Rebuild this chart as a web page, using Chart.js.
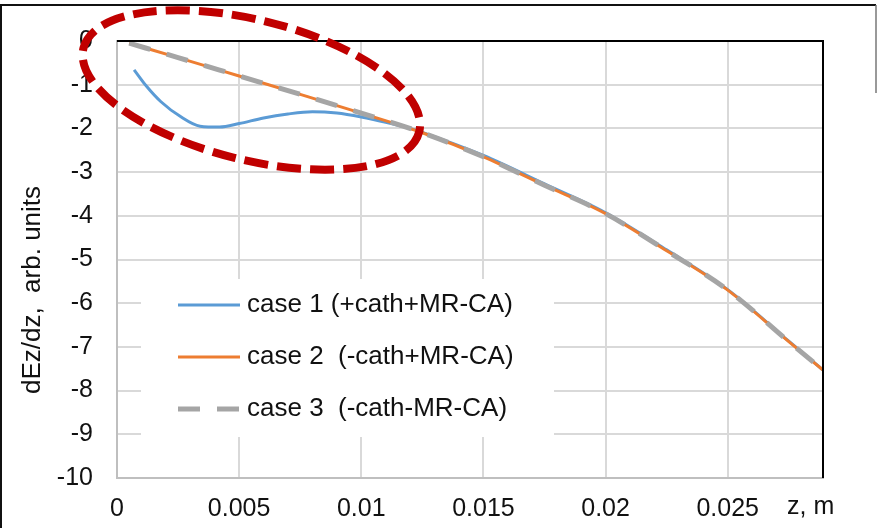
<!DOCTYPE html>
<html>
<head>
<meta charset="utf-8">
<script src="https://cdn.jsdelivr.net/npm/chart.js@4"></script>
<style>
  html, body { margin: 0; padding: 0; background: #fff; }
  canvas { display: block; }
</style>
</head>
<body>
<canvas id="chart" width="877" height="528"></canvas>
<script>
// Dados
const zCase1 = [0.0007, 0.0012, 0.0018, 0.0026, 0.0034, 0.0042, 0.005, 0.006, 0.007, 0.008, 0.009, 0.01, 0.011, 0.012, 0.0125, 0.015, 0.0175, 0.02, 0.0225, 0.025, 0.0275, 0.0289];
const case1 = [-0.66, -1.03, -1.39, -1.73, -1.95, -1.97, -1.89, -1.76, -1.67, -1.62, -1.65, -1.74, -1.86, -2.0, -2.09, -2.62, -3.27, -3.93, -4.78, -5.69, -6.87, -7.53];

const zCase23 = [0.0005, 0.0025, 0.005, 0.0075, 0.01, 0.0125, 0.015, 0.0175, 0.02, 0.0225, 0.025, 0.0275, 0.0289];
const case2 = [-0.05, -0.38, -0.8, -1.22, -1.65, -2.1, -2.65, -3.3, -3.95, -4.8, -5.7, -6.88, -7.53];
const case3 = [-0.05, -0.38, -0.8, -1.22, -1.65, -2.1, -2.65, -3.3, -3.95, -4.8, -5.7, -6.88, -7.53];

const labels = ['case 1 (+cath+MR-CA)', 'case 2  (-cath+MR-CA)', 'case 3  (-cath-MR-CA)'];
const yTitle = 'dEz/dz,  arb. units';
const xTitle = 'z, m';

const xMin = 0, xMax = 0.0289, xStep = 0.005;
const yMin = -10, yMax = 0, yStep = 1;

// elipse vermelha (anotação) – centro em unidades dos dados
const ellipseZ = 0.0055;
const ellipseV = -1.12;

const FONT = "'Liberation Sans', Arial, sans-serif";
Chart.defaults.font.family = FONT;
Chart.defaults.color = '#111';

function pontos(xs, ys) {
    return xs.map((x, i) => ({ x: x, y: ys[i] }));
}

const decor = {
    id: 'decor',
    beforeDraw(chart) {
        const ctx = chart.ctx;
        ctx.save();
        ctx.fillStyle = '#fff';
        ctx.fillRect(0, 0, chart.width, chart.height);
        // moldura exterior
        ctx.strokeStyle = '#111';
        ctx.lineWidth = 2;
        ctx.beginPath();
        ctx.moveTo(0, 5); ctx.lineTo(876, 5);
        ctx.moveTo(1, 5); ctx.lineTo(1, chart.height);
        ctx.stroke();
        ctx.strokeStyle = '#777';
        ctx.lineWidth = 1.5;
        ctx.beginPath();
        ctx.moveTo(876, 5); ctx.lineTo(876, 93);
        ctx.stroke();
        ctx.restore();
    },
    beforeDatasetsDraw(chart) {
        const ctx = chart.ctx;
        ctx.save();
        ctx.fillStyle = '#fff';
        ctx.fillRect(141, 279, 413, 158);
        ctx.restore();
    },
    afterDatasetsDraw(chart) {
        const ctx = chart.ctx;
        const a = chart.chartArea;
        ctx.save();
        ctx.strokeStyle = '#000';
        ctx.lineWidth = 2;
        ctx.beginPath();
        ctx.moveTo(a.left, a.top);
        ctx.lineTo(a.right, a.top);
        ctx.lineTo(a.right, a.bottom);
        ctx.stroke();
        ctx.restore();
    },
    afterDraw(chart) {
        const ctx = chart.ctx;
        const xs = chart.scales.x, ys = chart.scales.y;
        ctx.save();

        // legenda
        const rows = [305, 357, 409];
        chart.data.datasets.forEach((ds, i) => {
            ctx.strokeStyle = ds.borderColor;
            ctx.lineWidth = ds.borderWidth;
            ctx.setLineDash(ds.borderDash || []);
            ctx.beginPath();
            ctx.moveTo(178, rows[i]);
            ctx.lineTo(240, rows[i]);
            ctx.stroke();
            ctx.setLineDash([]);
            ctx.fillStyle = '#111';
            ctx.font = '26px ' + FONT;
            ctx.textBaseline = 'middle';
            ctx.textAlign = 'left';
            ctx.fillText(ds.label, 247, rows[i]);
        });

        // título do eixo y
        ctx.save();
        ctx.translate(33, 290);
        ctx.rotate(-Math.PI / 2);
        ctx.font = '26px ' + FONT;
        ctx.textAlign = 'center';
        ctx.textBaseline = 'middle';
        ctx.fillText(yTitle, 0, 0);
        ctx.restore();

        // título do eixo x
        ctx.font = '25px ' + FONT;
        ctx.textAlign = 'left';
        ctx.textBaseline = 'middle';
        ctx.fillText(xTitle, 787, 507);

        // elipse tracejada
        ctx.strokeStyle = '#C00000';
        ctx.lineWidth = 8;
        ctx.setLineDash([24, 9]);
        ctx.beginPath();
        ctx.ellipse(xs.getPixelForValue(ellipseZ), ys.getPixelForValue(ellipseV), 173, 70, 14 * Math.PI / 180, 0, Math.PI * 2);
        ctx.stroke();
        ctx.restore();
    }
};

const ctx = document.getElementById('chart').getContext('2d');
const myChart = new Chart(ctx, {
    type: 'line',
    data: {
        datasets: [
            {
                label: labels[0],
                data: pontos(zCase1, case1),
                borderColor: '#5B9BD5',
                borderWidth: 3,
                pointRadius: 0,
                cubicInterpolationMode: 'monotone',
                order: 3
            },
            {
                label: labels[1],
                data: pontos(zCase23, case2),
                borderColor: '#ED7D31',
                borderWidth: 3,
                pointRadius: 0,
                cubicInterpolationMode: 'monotone',
                order: 2
            },
            {
                label: labels[2],
                data: pontos(zCase23, case3),
                borderColor: '#A5A5A5',
                borderWidth: 5,
                borderDash: [22, 17],
                pointRadius: 0,
                cubicInterpolationMode: 'monotone',
                order: 1
            }
        ]
    },
    options: {
        responsive: false,
        animation: false,
        devicePixelRatio: 1,
        layout: { padding: { left: 0, top: 41, right: 54, bottom: 0 } },
        plugins: {
            legend: { display: false },
            tooltip: { enabled: false }
        },
        scales: {
            x: {
                type: 'linear',
                min: xMin,
                max: xMax,
                afterFit: s => { s.height = 50; },
                ticks: {
                    stepSize: xStep,
                    includeBounds: false,
                    padding: 16,
                    font: { size: 25 },
                    color: '#111',
                    maxRotation: 0,
                    callback: v => String(+v.toFixed(4))
                },
                grid: { color: '#d9d9d9', lineWidth: 2, drawTicks: false },
                border: { color: '#bfbfbf', width: 2 }
            },
            y: {
                min: yMin,
                max: yMax,
                afterFit: s => { s.width = 117; },
                ticks: {
                    stepSize: yStep,
                    padding: 24,
                    font: { size: 25 },
                    color: '#111',
                    callback: v => String(v)
                },
                grid: { color: '#d9d9d9', lineWidth: 2, drawTicks: false },
                border: { color: '#bfbfbf', width: 2 }
            }
        }
    },
    plugins: [decor]
});
</script>
</body>
</html>
